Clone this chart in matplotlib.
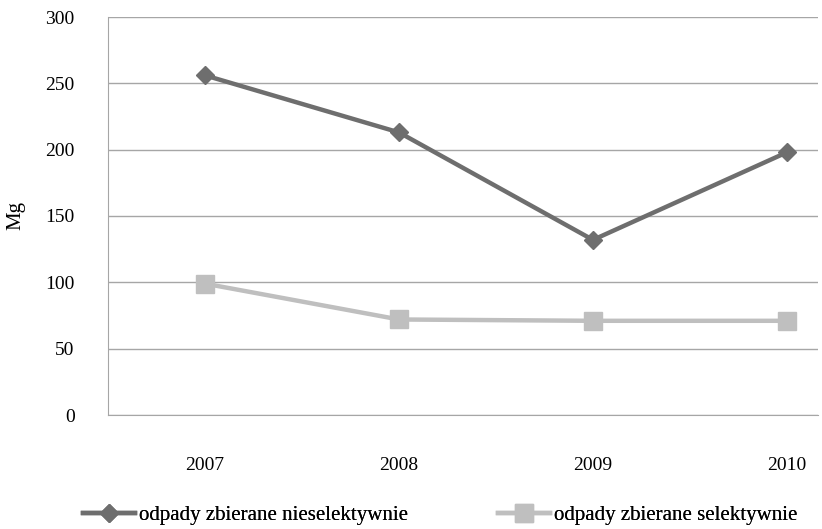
import matplotlib.pyplot as plt

# ------------------------------
# Data
# ------------------------------
years = ["2007", "2008", "2009", "2010"]
nieselektywnie = [256, 213, 132, 198]
selektywnie = [99, 72, 71, 71]
labels = ["odpady zbierane nieselektywnie", "odpady zbierane selektywnie"]

plt.rcParams["font.family"] = ["Liberation Serif", "DejaVu Serif"]

# ------------------------------
# Chart
# ------------------------------
fig = plt.figure(figsize=(8.22, 5.29), dpi=100)
ax = fig.add_axes([108 / 822, 1 - 415 / 529, (818 - 108) / 822, (415 - 17) / 529])

x = range(len(years))
line1, = ax.plot(x, nieselektywnie, color="#6e6e6e", linewidth=3.2, marker="D",
                 markersize=9, label=labels[0])
line2, = ax.plot(x, selektywnie, color="#bfbfbf", linewidth=3.2, marker="s",
                 markersize=13, label=labels[1])

ax.set_xlim(-0.5, 3.16)
ax.set_ylim(0, 300)
ax.set_yticks(range(0, 301, 50))
ax.set_xticks(list(x))
ax.set_xticklabels(years)

ax.yaxis.grid(True, color="#a6a6a6", linewidth=1)
ax.set_axisbelow(True)
for side in ["top", "right"]:
    ax.spines[side].set_visible(False)
for side in ["left", "bottom"]:
    ax.spines[side].set_color("#a6a6a6")
ax.tick_params(length=0, labelsize=14)
ax.tick_params(axis="y", pad=24)
ax.tick_params(axis="x", pad=30)
ax.set_ylabel("Mg", fontsize=15, labelpad=14)

# legend entries placed separately, like the original
for handle, xpos in [(line1, 72), (line2, 487)]:
    leg = fig.legend(handles=[handle], loc="center left",
                     bbox_to_anchor=((xpos - 8) / 822, 1 - 515 / 529),
                     frameon=False, fontsize=15, handlelength=2.5,
                     handletextpad=0.2)
    fig.add_artist(leg)

plt.savefig("out.png", dpi=100)
plt.close()
